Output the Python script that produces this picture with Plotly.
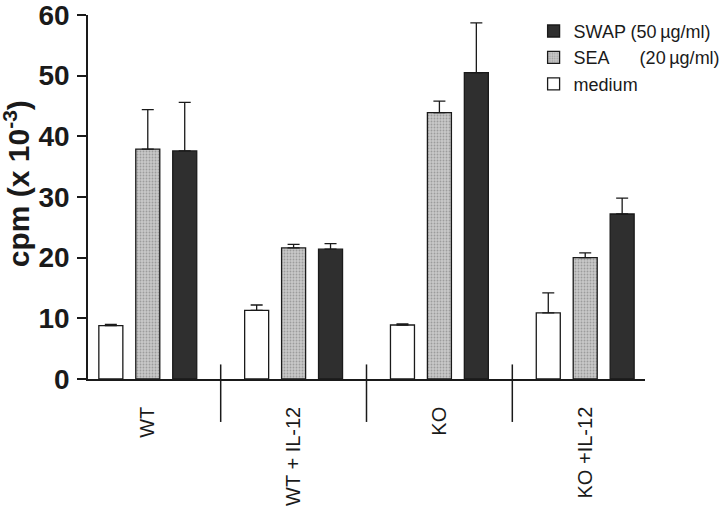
import plotly.graph_objects as go

categories = ["WT", "WT + IL-12", "KO", "KO +IL-12"]

medium_vals = [8.8, 11.3, 8.9, 10.9]
medium_err = [0.2, 0.9, 0.2, 3.3]

sea_vals = [37.9, 21.6, 43.9, 20.0]
sea_err = [6.5, 0.6, 1.9, 0.8]

swap_vals = [37.6, 21.4, 50.5, 27.2]
swap_err = [8.0, 0.9, 8.2, 2.6]

series_names = ["medium",
                "SEA\u00a0\u00a0\u00a0\u00a0\u00a0\u00a0(20\u2009\u00b5g/ml)",
                "SWAP (50\u2009\u00b5g/ml)"]

y_ticks = [0, 10, 20, 30, 40, 50, 60]

FONT = "Liberation Sans, Arial, Helvetica, sans-serif"
INK = "#1a1a1a"

xpos = list(range(len(categories)))

fig = go.Figure()


def err(arr):
    return dict(type="data", symmetric=False, array=arr, arrayminus=[0] * len(arr),
                color=INK, thickness=1.3, width=6)


fig.add_trace(go.Bar(
    x=xpos, y=medium_vals, name=series_names[0],
    marker=dict(color="white", line=dict(color=INK, width=1.3)),
    error_y=err(medium_err),
))
fig.add_trace(go.Bar(
    x=xpos, y=sea_vals, name=series_names[1],
    marker=dict(color="#c8c8c8", line=dict(color=INK, width=1.3),
                pattern=dict(shape=".", fillmode="overlay", fgcolor="#707070",
                             size=3, solidity=0.3)),
    error_y=err(sea_err),
))
fig.add_trace(go.Bar(
    x=xpos, y=swap_vals, name=series_names[2],
    marker=dict(color="#2f2f2f", line=dict(color=INK, width=1.3)),
    error_y=err(swap_err),
))

# group separators between categories
for i in range(len(categories) - 1):
    fig.add_shape(type="line", xref="x", yref="paper",
                  x0=i + 0.5, x1=i + 0.5, y0=-0.118, y1=0.04,
                  line=dict(color=INK, width=1.5))

# y-axis title
fig.add_annotation(
    text="cpm (x 10<sup>-3</sup>)", textangle=-90,
    xref="paper", yref="paper", x=0, y=0.535, xshift=-71,
    xanchor="center", yanchor="middle", showarrow=False,
    font=dict(size=30, color=INK, family=FONT, weight="bold"),
)

fig.update_layout(
    template="none",
    width=720, height=510,
    margin=dict(l=88, r=75, t=15, b=131, autoexpand=False),
    paper_bgcolor="white", plot_bgcolor="white",
    barmode="group", bargap=0.24, bargroupgap=0.35,
    font=dict(family=FONT, color=INK),
    showlegend=True,
    legend=dict(x=0.80, y=1.006, xanchor="left", yanchor="top",
                traceorder="reversed", font=dict(size=18, color=INK),
                bgcolor="rgba(0,0,0,0)", itemwidth=30, tracegroupgap=0),
)

fig.update_xaxes(
    range=[-0.41, 3.41], tickvals=xpos, ticktext=categories,
    tickangle=-90, tickfont=dict(size=20, color=INK, family=FONT),
    showline=True, linecolor=INK, linewidth=1.5, ticks="",
    showgrid=False, zeroline=False, ticklabelstandoff=18, automargin=False,
    ticklabeloverflow="allow",
)

fig.update_yaxes(
    range=[0, 60], tickvals=y_ticks,
    tickfont=dict(size=28, color=INK, family=FONT, weight="bold"),
    showline=True, linecolor=INK, linewidth=1.5,
    ticks="outside", ticklen=9, tickwidth=1.5, tickcolor=INK,
    showgrid=False, zeroline=False, ticklabelstandoff=2, automargin=False,
    ticklabeloverflow="allow",
)

fig.write_html("out.html",
               config={"displayModeBar": False},
               post_script="document.body.style.margin='0';document.body.style.overflow='hidden';")
